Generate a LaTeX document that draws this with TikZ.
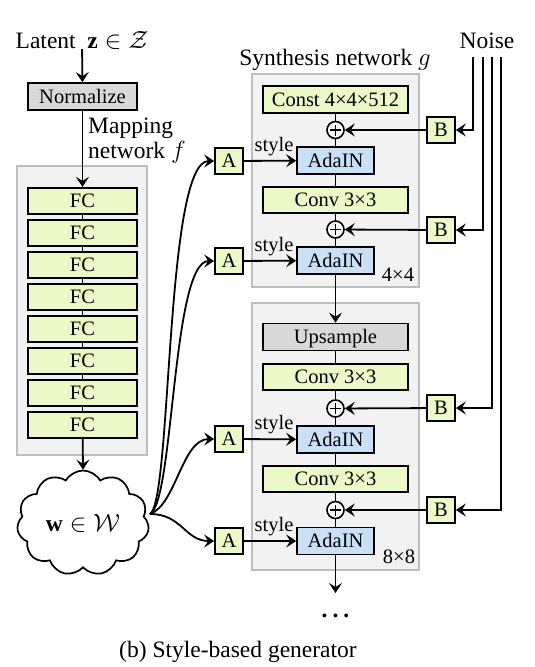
\documentclass[tikz,border=0pt]{standalone}
\usepackage{fontspec}
\setmainfont{Liberation Serif}
\usetikzlibrary{arrows.meta,shapes.symbols,calc}
\definecolor{boxgreen}{HTML}{EBF8C8}
\definecolor{boxblue}{HTML}{C9E0F7}
\definecolor{boxgray}{HTML}{D9D9D9}
\definecolor{panelfill}{HTML}{F2F2F2}
\definecolor{paneldraw}{HTML}{BDBDBD}
\begin{document}
\begin{tikzpicture}[x=1pt,y=-1pt,
  bigtxt/.style={font=\fontsize{23.5}{28}\selectfont, inner sep=0pt},
  smalltxt/.style={font=\fontsize{20.5}{24}\selectfont, inner sep=0pt},
  blk/.style={draw=black, line width=1.7pt, inner sep=0pt, font=\fontsize{20.5}{24}\selectfont, text height=13.6pt, text depth=0pt},
  gbox/.style={blk, fill=boxgreen},
  bbox/.style={blk, fill=boxblue},
  kbox/.style={blk, fill=boxgray},
  widebox/.style={minimum width=145pt, minimum height=27pt},
  fcbox/.style={gbox, minimum width=109pt, minimum height=26.5pt},
  adabox/.style={bbox, minimum width=77pt, minimum height=27pt},
  abox/.style={gbox, minimum width=28pt, minimum height=26pt},
  panel/.style={draw=paneldraw, fill=panelfill, line width=1.2pt, inner sep=0pt},
  plus/.style={circle, draw=black, line width=1.6pt, fill=white, minimum size=17pt, inner sep=0pt,
    path picture={\draw[line width=1.3pt] ([xshift=-5.5pt]path picture bounding box.center) -- ([xshift=5.5pt]path picture bounding box.center) ([yshift=-5.5pt]path picture bounding box.center) -- ([yshift=5.5pt]path picture bounding box.center);}},
  conn/.style={line width=1.8pt},
  arr/.style={line width=1.8pt, -{Stealth[length=10pt,width=13pt,inset=4pt]}},
]
\useasboundingbox (0,0) rectangle (535,667);

% panels
\node[panel, minimum width=130pt, minimum height=289pt] (mpanel) at (82,310.5) {};
\node[panel, minimum width=167pt, minimum height=213pt] (spanel1) at (335.5,180.5) {};
\node[panel, minimum width=167pt, minimum height=267pt] (spanel2) at (335.5,436.5) {};

% mapping network
\node[bigtxt, anchor=base] (latent) at (82,48) {Latent ~$\mathbf{z}\in\mathcal{Z}$};
\node[kbox, minimum width=109pt, minimum height=27pt] (norm) at (82.5,96.5) {Normalize};
\node[bigtxt, anchor=base west, align=left] (maplbl) at (88,158) {Mapping\\[-3pt]network $f$};
\foreach \i in {0,...,7} {
  \node[fcbox] (fc\i) at (82.5,{201+32*\i}) {FC};
}
\draw[arr] (latent) -- (norm);
\draw[arr] (norm) -- (fc0);
\foreach \i/\j in {0/1,1/2,2/3,3/4,4/5,5/6,6/7} {
  \draw[conn] (fc\i) -- (fc\j);
}
\node[cloud, cloud puffs=11, cloud puff arc=120, aspect=1.26, draw=black, line width=1.7pt, fill=white,
  minimum width=132pt, minimum height=105pt, inner sep=0pt, font=\fontsize{23.5}{28}\selectfont] (w) at (83,523) {$\mathbf{w}\in\mathcal{W}$};
\draw[arr] (fc7) -- (w.north);

% synthesis network
\node[bigtxt, anchor=base] (synlbl) at (335,65) {Synthesis network $g$};
\node[gbox, widebox] (const) at (335.5,99.5) {Const 4×4×512};
\node[plus] (p1) at (335.5,130) {};
\node[adabox] (ada1) at (335.5,160.5) {AdaIN};
\node[gbox, widebox, minimum height=26pt] (conv1) at (335.5,200) {Conv 3×3};
\node[plus] (p2) at (335.5,229.5) {};
\node[adabox] (ada2) at (335.5,260.5) {AdaIN};
\node[smalltxt, anchor=base] (res1) at (398,281) {4×4};

\node[kbox, widebox] (ups) at (335.5,337) {Upsample};
\node[gbox, widebox, minimum height=26pt] (conv2) at (335.5,377) {Conv 3×3};
\node[plus] (p3) at (335.5,408.5) {};
\node[adabox] (ada3) at (335.5,439.5) {AdaIN};
\node[gbox, widebox, minimum height=26pt] (conv3) at (335.5,479) {Conv 3×3};
\node[plus] (p4) at (335.5,510) {};
\node[adabox] (ada4) at (335.5,541) {AdaIN};
\node[smalltxt, anchor=base] (res2) at (399,563) {8×8};

\draw[conn] (const) -- (p1);
\draw[conn] (p1) -- (ada1);
\draw[conn] (ada1) -- (conv1);
\draw[conn] (conv1) -- (p2);
\draw[conn] (p2) -- (ada2);
\draw[arr] (ada2) -- (ups);
\draw[conn] (ups) -- (conv2);
\draw[conn] (conv2) -- (p3);
\draw[conn] (p3) -- (ada3);
\draw[conn] (ada3) -- (conv3);
\draw[conn] (conv3) -- (p4);
\draw[conn] (p4) -- (ada4);
\coordinate (outend) at (335.5,593);
\draw[arr] (ada4) -- (outend);
\node[bigtxt, anchor=base] (dots) at (335.5,617) {\textbf{.\hspace{5pt}.\hspace{5pt}.}};

% A boxes and styles
\node[abox] (A1) at (229,161) {A};
\node[abox] (A2) at (229,261) {A};
\node[abox] (A3) at (229,439) {A};
\node[abox] (A4) at (229,541) {A};
\node[smalltxt, anchor=base] (st1) at (274,151) {style};
\node[smalltxt, anchor=base] (st2) at (274,251) {style};
\node[smalltxt, anchor=base] (st3) at (274,429.5) {style};
\node[smalltxt, anchor=base] (st4) at (274,531.5) {style};
\draw[arr] (A1) -- (ada1);
\draw[arr] (A2) -- (ada2);
\draw[arr] (A3) -- (ada3);
\draw[arr] (A4) -- (ada4);

% curves from w
\coordinate (wout) at (150,514);
\draw[arr] (wout) .. controls (172,500) and (165,161) .. (A1.west);
\draw[arr] (wout) .. controls (174,502) and (172,261) .. (A2.west);
\draw[arr] (wout) .. controls (176,505) and (182,439) .. (A3.west);
\draw[arr] (wout) .. controls (182,514) and (185,541) .. (A4.west);

% noise
\node[bigtxt, anchor=base] (noise) at (487,48) {Noise};
\node[abox] (B1) at (441,130) {B};
\node[abox] (B2) at (441,230) {B};
\node[abox] (B3) at (441,408) {B};
\node[abox] (B4) at (441,510) {B};
\coordinate (n1) at (473,57);
\coordinate (n2) at (483,57);
\coordinate (n3) at (492,57);
\coordinate (n4) at (501,57);
\draw[arr] (n1) |- (B1.east);
\draw[arr] (n2) |- (B2.east);
\draw[arr] (n3) |- (B3.east);
\draw[arr] (n4) |- (B4.east);
\draw[arr] (B1) -- (p1);
\draw[arr] (B2) -- (p2);
\draw[arr] (B3) -- (p3);
\draw[arr] (B4) -- (p4);

% caption
\node[bigtxt, anchor=base] (caption) at (238,657) {(b) Style-based generator};
\end{tikzpicture}
\end{document}
